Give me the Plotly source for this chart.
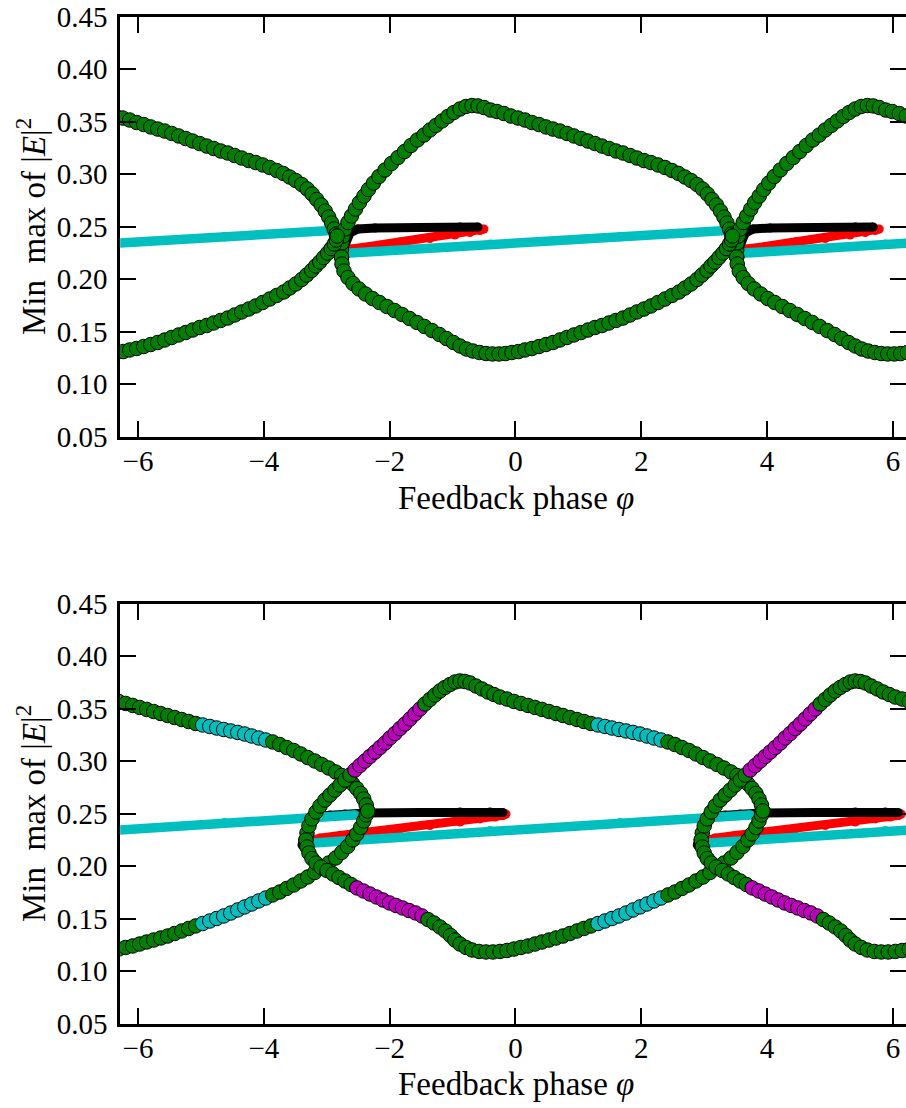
import math
import plotly.graph_objects as go

TWO_PI = 2 * math.pi

# ---------------- upper panel ----------------
# continuous-wave branch (one period, repeated every 2*pi)
TOP_CW_PHI = [-2.76, -0.40, 1.66, 3.42]
TOP_CW_Y = [0.2245, 0.2333, 0.2405, 0.2467]

# secondary branch: upper (black) and lower (red) edges of the tongue
TOP_TONGUE_HI = [(-2.774, 0.2230), (-2.710, 0.2354), (-2.631, 0.2440), (-2.504, 0.2478),
                 (-2.233, 0.2488), (-1.518, 0.2492), (-0.882, 0.2497), (-0.596, 0.2497)]
TOP_TONGUE_LO = [(-2.774, 0.2230), (-2.631, 0.2287), (-2.313, 0.2311), (-1.836, 0.2355),
                 (-1.359, 0.2387), (-0.962, 0.2421), (-0.723, 0.2445), (-0.564, 0.2464),
                 (-0.501, 0.2478)]

# periodic orbit: maximum of |E|^2
TOP_MAX = [(-2.766, 0.2211), (-2.766, 0.2278), (-2.758, 0.2345), (-2.742, 0.2411), (-2.710, 0.2478),
           (-2.663, 0.2540), (-2.607, 0.2602), (-2.543, 0.2668), (-2.480, 0.2730), (-2.408, 0.2792),
           (-2.337, 0.2854), (-2.257, 0.2916), (-2.170, 0.2978), (-2.074, 0.3040), (-1.971, 0.3102),
           (-1.868, 0.3159), (-1.764, 0.3216), (-1.661, 0.3273), (-1.558, 0.3326), (-1.454, 0.3373),
           (-1.359, 0.3421), (-1.264, 0.3464), (-1.168, 0.3507), (-1.073, 0.3550), (-0.978, 0.3588),
           (-0.882, 0.3621), (-0.787, 0.3645), (-0.691, 0.3654), (-0.596, 0.3650), (-0.501, 0.3635),
           (-0.397, 0.3611), (-0.294, 0.3597), (-0.183, 0.3578), (-0.072, 0.3554), (0.040, 0.3535),
           (0.151, 0.3516), (0.262, 0.3492), (0.374, 0.3473), (0.485, 0.3450), (0.596, 0.3430),
           (0.707, 0.3411), (0.819, 0.3388), (0.930, 0.3364), (1.041, 0.3340), (1.152, 0.3316),
           (1.264, 0.3292), (1.375, 0.3268), (1.486, 0.3245), (1.598, 0.3221), (1.709, 0.3202),
           (1.820, 0.3178), (1.931, 0.3154), (2.043, 0.3130), (2.154, 0.3111), (2.265, 0.3088),
           (2.376, 0.3064), (2.488, 0.3035), (2.591, 0.3007), (2.694, 0.2973), (2.790, 0.2940),
           (2.885, 0.2902), (2.973, 0.2859), (3.052, 0.2811), (3.124, 0.2759), (3.195, 0.2707),
           (3.259, 0.2649), (3.314, 0.2592), (3.362, 0.2535), (3.402, 0.2478), (3.434, 0.2430),
           (3.449, 0.2411)]

# periodic orbit: minimum of |E|^2
TOP_MIN = [(-2.766, 0.2211), (-2.758, 0.2145), (-2.726, 0.2078), (-2.663, 0.2016), (-2.583, 0.1959),
           (-2.488, 0.1907), (-2.384, 0.1859), (-2.273, 0.1816), (-2.162, 0.1778), (-2.043, 0.1740),
           (-1.923, 0.1702), (-1.804, 0.1664), (-1.685, 0.1626), (-1.566, 0.1588), (-1.447, 0.1550),
           (-1.327, 0.1511), (-1.208, 0.1473), (-1.097, 0.1435), (-0.986, 0.1397), (-0.882, 0.1364),
           (-0.779, 0.1335), (-0.676, 0.1316), (-0.572, 0.1302), (-0.469, 0.1292), (-0.366, 0.1288),
           (-0.262, 0.1288), (-0.159, 0.1292), (-0.056, 0.1302), (0.048, 0.1311), (0.151, 0.1326),
           (0.262, 0.1340), (0.374, 0.1359), (0.485, 0.1378), (0.596, 0.1397), (0.707, 0.1421),
           (0.819, 0.1445), (0.930, 0.1469), (1.041, 0.1492), (1.152, 0.1516), (1.264, 0.1540),
           (1.375, 0.1559), (1.486, 0.1583), (1.598, 0.1607), (1.709, 0.1630), (1.820, 0.1659),
           (1.931, 0.1688), (2.043, 0.1716), (2.154, 0.1745), (2.265, 0.1778), (2.376, 0.1811),
           (2.488, 0.1845), (2.599, 0.1878), (2.694, 0.1916), (2.790, 0.1954), (2.885, 0.1997),
           (2.965, 0.2040), (3.044, 0.2083), (3.108, 0.2126), (3.171, 0.2164), (3.235, 0.2207),
           (3.298, 0.2249), (3.354, 0.2292), (3.402, 0.2335), (3.434, 0.2373), (3.449, 0.2411)]

# ---------------- lower panel ----------------
BOT_CW_PHI = [-3.22, -0.405, 1.661, 3.73]
BOT_CW_Y = [0.2222, 0.2339, 0.2415, 0.2489]

BOT_TONGUE_HI = [(-3.394, 0.2203), (-3.346, 0.2269), (-3.282, 0.2346), (-3.219, 0.2422),
                 (-3.140, 0.2479), (-2.949, 0.2489), (-2.710, 0.2498), (-2.392, 0.2508),
                 (-1.518, 0.2512), (-0.882, 0.2517), (-0.405, 0.2517), (-0.199, 0.2512)]
BOT_TONGUE_LO = [(-3.267, 0.2241), (-3.108, 0.2269), (-2.790, 0.2293),
                 (-2.313, 0.2327), (-1.836, 0.2355), (-1.359, 0.2389), (-0.882, 0.2422),
                 (-0.564, 0.2451), (-0.326, 0.2470), (-0.199, 0.2484), (-0.151, 0.2498)]

# maximum of |E|^2, split by stability of the orbit
BOT_MAX_1 = [(-3.330, 0.2251), (-3.314, 0.2317), (-3.283, 0.2384), (-3.235, 0.2451), (-3.171, 0.2517),
             (-3.108, 0.2574), (-3.028, 0.2631), (-2.949, 0.2679), (-2.869, 0.2726), (-2.790, 0.2774),
             (-2.710, 0.2822), (-2.631, 0.2869)]
BOT_MAX_2 = [(-2.551, 0.2917), (-2.472, 0.2960), (-2.392, 0.3003), (-2.313, 0.3046), (-2.233, 0.3088),
             (-2.154, 0.3131), (-2.074, 0.3174), (-1.995, 0.3222), (-1.915, 0.3265), (-1.836, 0.3312),
             (-1.757, 0.3355), (-1.677, 0.3403), (-1.598, 0.3451), (-1.518, 0.3498)]
BOT_MAX_3 = [(-1.439, 0.3546), (-1.359, 0.3589), (-1.280, 0.3631), (-1.200, 0.3670), (-1.121, 0.3703),
             (-1.041, 0.3731), (-0.962, 0.3755), (-0.882, 0.3765), (-0.803, 0.3760), (-0.723, 0.3746),
             (-0.628, 0.3717), (-0.533, 0.3689), (-0.437, 0.3660), (-0.342, 0.3636), (-0.246, 0.3612),
             (-0.135, 0.3593), (-0.024, 0.3570), (0.087, 0.3551), (0.199, 0.3532), (0.310, 0.3513),
             (0.421, 0.3494), (0.533, 0.3474), (0.644, 0.3455), (0.755, 0.3436), (0.866, 0.3417),
             (0.978, 0.3398), (1.089, 0.3379), (1.200, 0.3360)]
BOT_MAX_4 = [(1.311, 0.3346), (1.423, 0.3332), (1.534, 0.3317), (1.645, 0.3303), (1.757, 0.3289),
             (1.868, 0.3275), (1.979, 0.3260), (2.090, 0.3241), (2.202, 0.3222), (2.313, 0.3203)]
BOT_MAX_5 = [(2.424, 0.3184), (2.535, 0.3160), (2.647, 0.3131), (2.758, 0.3103), (2.869, 0.3070),
             (2.981, 0.3036), (3.092, 0.3003), (3.203, 0.2970), (3.314, 0.2936), (3.426, 0.2898),
             (3.521, 0.2865), (3.616, 0.2827), (3.696, 0.2784), (3.760, 0.2741), (3.823, 0.2694),
             (3.871, 0.2641), (3.910, 0.2584), (3.934, 0.2527)]

# minimum of |E|^2, split by stability of the orbit
BOT_MIN_1 = [(-3.330, 0.2251), (-3.314, 0.2184), (-3.283, 0.2127), (-3.235, 0.2074), (-3.171, 0.2031),
             (-3.092, 0.1993), (-2.996, 0.1960), (-2.901, 0.1927), (-2.806, 0.1893), (-2.710, 0.1860),
             (-2.615, 0.1827)]
BOT_MIN_2 = [(-2.520, 0.1794), (-2.416, 0.1765), (-2.313, 0.1736), (-2.210, 0.1708), (-2.106, 0.1679),
             (-2.003, 0.1651), (-1.900, 0.1627), (-1.796, 0.1603), (-1.693, 0.1579), (-1.590, 0.1556),
             (-1.486, 0.1527)]
BOT_MIN_3 = [(-1.391, 0.1493), (-1.296, 0.1460), (-1.200, 0.1422), (-1.113, 0.1384), (-1.033, 0.1341),
             (-0.962, 0.1298), (-0.882, 0.1260), (-0.787, 0.1227), (-0.691, 0.1203), (-0.580, 0.1189),
             (-0.469, 0.1184), (-0.358, 0.1184), (-0.246, 0.1189), (-0.135, 0.1198), (-0.024, 0.1212),
             (0.087, 0.1227), (0.199, 0.1241), (0.310, 0.1260), (0.421, 0.1279), (0.533, 0.1298),
             (0.644, 0.1317), (0.755, 0.1336), (0.866, 0.1360), (0.978, 0.1384), (1.089, 0.1408),
             (1.200, 0.1432)]
BOT_MIN_4 = [(1.311, 0.1455), (1.423, 0.1479), (1.534, 0.1503), (1.645, 0.1527), (1.757, 0.1555),
             (1.868, 0.1584), (1.979, 0.1613), (2.090, 0.1641), (2.202, 0.1670), (2.313, 0.1698)]
BOT_MIN_5 = [(2.424, 0.1727), (2.535, 0.1755), (2.647, 0.1789), (2.758, 0.1822), (2.869, 0.1860),
             (2.981, 0.1898), (3.092, 0.1941), (3.203, 0.1984), (3.314, 0.2031), (3.426, 0.2079),
             (3.521, 0.2132), (3.616, 0.2189), (3.696, 0.2251), (3.760, 0.2308), (3.823, 0.2370),
             (3.871, 0.2432), (3.910, 0.2489), (3.934, 0.2527)]

X_TICKS = [-6, -4, -2, 0, 2, 4, 6]
Y_TICKS = [0.05, 0.10, 0.15, 0.20, 0.25, 0.30, 0.35, 0.40, 0.45]

GREEN = "#008000"
CYAN = "#00BFBF"
MAGENTA = "#BF00BF"
RED = "#FF0000"
BLACK = "#000000"

FONT = "Liberation Serif, Times New Roman, serif"
SHIFTS = [-TWO_PI, 0.0, TWO_PI]

fig = go.Figure()


def unzip(points):
    return [p[0] for p in points], [p[1] for p in points]


def add_thin(phi, y, color, width, xa, ya):
    for s in SHIFTS:
        fig.add_trace(go.Scatter(
            x=[v + s for v in phi], y=y, mode="lines+markers",
            line=dict(color=color, width=width),
            marker=dict(color=color, size=width, line=dict(width=0)),
            xaxis=xa, yaxis=ya, showlegend=False, hoverinfo="skip"))


def add_orbit(segments, xa, ya):
    phi, y, cols = [], [], []
    for pts, col in segments:
        p, v = unzip(pts)
        phi += p
        y += v
        cols += [col] * len(p)
    for s in SHIFTS:
        fig.add_trace(go.Scatter(
            x=[v + s for v in phi], y=y, mode="markers",
            marker=dict(color=cols, size=14.5, line=dict(color=BLACK, width=1)),
            xaxis=xa, yaxis=ya, showlegend=False, hoverinfo="skip"))


# upper panel: tongue edges, then the CW line on top of them, then the orbits
add_thin(*unzip(TOP_TONGUE_LO), RED, 9, "x", "y")
add_thin(*unzip(TOP_TONGUE_HI), BLACK, 9, "x", "y")
add_thin(TOP_CW_PHI, TOP_CW_Y, CYAN, 9.5, "x", "y")
add_orbit([(TOP_MAX, GREEN)], "x", "y")
add_orbit([(TOP_MIN, GREEN)], "x", "y")

# lower panel
add_thin(*unzip(BOT_TONGUE_LO), RED, 9, "x2", "y2")
add_thin(*unzip(BOT_TONGUE_HI), BLACK, 9, "x2", "y2")
add_thin(BOT_CW_PHI, BOT_CW_Y, CYAN, 9.5, "x2", "y2")
add_orbit([(BOT_MAX_1, GREEN), (BOT_MAX_2, MAGENTA), (BOT_MAX_3, GREEN),
           (BOT_MAX_4, CYAN), (BOT_MAX_5, GREEN)], "x2", "y2")
add_orbit([(BOT_MIN_1, GREEN), (BOT_MIN_2, MAGENTA), (BOT_MIN_3, GREEN),
           (BOT_MIN_4, CYAN), (BOT_MIN_5, GREEN)], "x2", "y2")

W, H = 906, 1108
LEFT = 120.2
X_RANGE = [-TWO_PI, -TWO_PI + (W - LEFT) / 62.91]

axis_common = dict(
    showline=True, linecolor=BLACK, linewidth=3, mirror="ticks",
    ticks="inside", ticklen=16, tickwidth=2, tickcolor=BLACK,
    showgrid=False, zeroline=False, automargin=False,
    tickfont=dict(family=FONT, size=29, color=BLACK),
)

x_common = dict(axis_common, range=X_RANGE, tickvals=X_TICKS,
                domain=[LEFT / W, 1.0], ticklabelstandoff=-4)
y_common = dict(axis_common, range=[0.05, 0.45], tickvals=Y_TICKS,
                tickformat=".2f", ticklabelstandoff=4)

fig.update_layout(
    template="none",
    width=W, height=H,
    margin=dict(l=0, r=0, t=0, b=0, pad=0, autoexpand=False),
    paper_bgcolor="white", plot_bgcolor="white",
    xaxis=dict(x_common, anchor="y"),
    yaxis=dict(y_common, anchor="x", domain=[1 - 436.7 / H, 1 - 16.7 / H]),
    xaxis2=dict(x_common, anchor="y2"),
    yaxis2=dict(y_common, anchor="x2", domain=[1 - 1023.8 / H, 1 - 603.8 / H]),
)

XTITLE = "Feedback phase <i>φ</i>"
YTITLE = "Min  max of |<i>E</i>|<sup>2</sup>"
title_font = dict(family=FONT, size=33, color=BLACK)
for xt_y, yt_y in [(498, 227), (1084, 814)]:
    fig.add_annotation(text=XTITLE, xref="paper", yref="paper",
                       x=515.5 / W, y=1 - xt_y / H, showarrow=False,
                       xanchor="center", yanchor="middle", font=title_font)
    fig.add_annotation(text=YTITLE, xref="paper", yref="paper",
                       x=31 / W, y=1 - yt_y / H, showarrow=False, textangle=-90,
                       xanchor="center", yanchor="middle", font=title_font)

fig.write_html("out.html")
